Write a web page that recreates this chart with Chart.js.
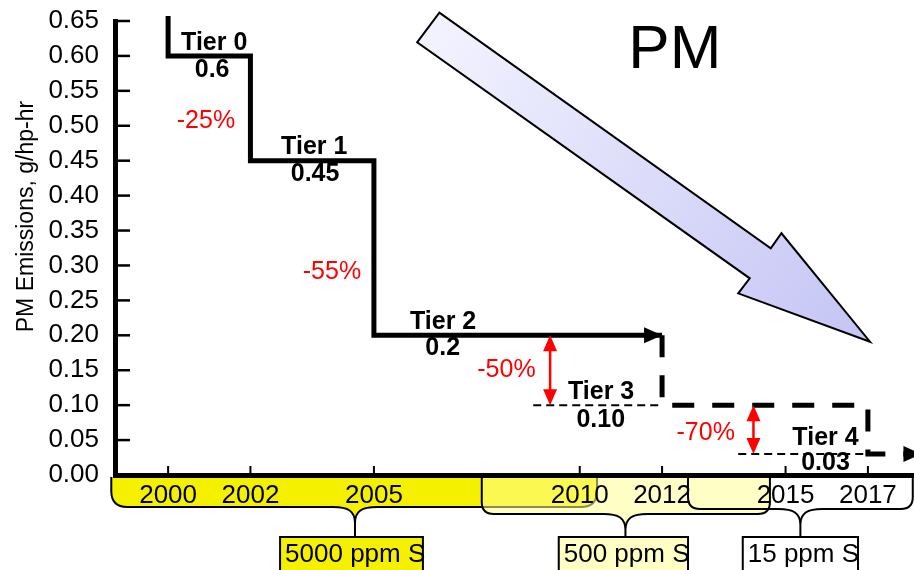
<!DOCTYPE html>
<html>
<head>
<meta charset="utf-8">
<title>PM Emissions</title>
<script src="https://cdn.jsdelivr.net/npm/chart.js@4.4.1/dist/chart.umd.min.js"></script>
<style>
  body { margin: 0; background: #fff; }
  canvas { display: block; }
</style>
</head>
<body>
<canvas id="pmChart" width="914" height="570"></canvas>
<script>
// PM limits, g/hp-hr, by tier
const tierNames = ['Tier 0', 'Tier 1', 'Tier 2', 'Tier 3', 'Tier 4'];
const tierStart = [2000, 2002, 2005, 2012, 2017];
const pmLimit = [0.6, 0.45, 0.2, 0.10, 0.03];
const pmLimitText = ['0.6', '0.45', '0.2', '0.10', '0.03'];
const reductionText = ['-25%', '-55%', '-50%', '-70%'];

const yearTicks = [2000, 2002, 2005, 2010, 2012, 2015, 2017];
const pmTicks = [0, 0.05, 0.10, 0.15, 0.20, 0.25, 0.30, 0.35, 0.40, 0.45, 0.50, 0.55, 0.60, 0.65];

// fuel sulfur periods (years covered by each brace)
const fuelText = ['5000 ppm S', '500 ppm S', '15 ppm S'];
const fuelFrom = [1998.62, 2007.62, 2012.63];
const fuelTo = [2010.42, 2014.62, 2018.09];

// layout, in axis units
const xMin = 1998.71, xMax = 2018.12;
const tier0Top = 0.657;
const lineEnd = 2018.3;
const guideFrom = [2008.87, 2013.85];
const redArrowYear = [2009.28, 2014.22];
const tierLabelAt = [[2001.12, 0.619], [2003.55, 0.470], [2006.68, 0.219], [2010.52, 0.119], [2015.97, 0.053]];
const valueLabelAt = [[2001.07, 0.580], [2003.57, 0.431], [2006.67, 0.182], [2010.51, 0.079], [2015.97, 0.017]];
const reductionAt = [[2000.92, 0.507], [2003.98, 0.291], [2008.22, 0.150], [2013.06, 0.060]];
const bigArrow = [[2006.59, 0.6619], [2014.64, 0.3246], [2014.90, 0.3461], [2017.05, 0.1908],
                  [2013.85, 0.2601], [2014.13, 0.2816], [2006.05, 0.6195]];
const bandStyle = [
    { fill: '#f5f000', bottom: 32, r: 16, brace: 2004.54, box: [2002.72, 2006.19], boxFill: '#f5f000' },
    { fill: 'rgba(255,255,150,0.55)', bottom: 39, r: 12, brace: 2011.11, box: [2009.49, 2012.63], boxFill: '#ffffc4' },
    { fill: null, bottom: 34, r: 12, brace: 2015.36, box: [2013.96, 2016.76], boxFill: '#ffffff' }
];

const FONT = '"Liberation Sans", Arial, Helvetica, sans-serif';
Chart.defaults.font.family = FONT;
Chart.defaults.color = '#000';

// corner points of the step line, each tier held until the next one starts
function steps(from, to) {
    const pts = [];
    for (let i = from; i < to; i++) {
        const end = i + 1 < tierStart.length ? tierStart[i + 1] : lineEnd;
        pts.push({ x: tierStart[i], y: pmLimit[i] });
        pts.push({ x: end, y: pmLimit[i] });
    }
    return pts;
}

const solidPts = [{ x: tierStart[0], y: tier0Top }].concat(steps(0, 3));
const dashedPts = [{ x: tierStart[3], y: pmLimit[2] }].concat(steps(3, 5));
const guide3 = [{ x: guideFrom[0], y: pmLimit[3] }, { x: tierStart[3], y: pmLimit[3] }];
const guide4 = [{ x: guideFrom[1], y: pmLimit[4] }, { x: tierStart[4], y: pmLimit[4] }];

function arrowHead(ctx, tx, ty, dx, dy, len, half) {
    const bx = tx - dx * len, by = ty - dy * len;
    ctx.beginPath();
    ctx.moveTo(tx, ty);
    ctx.lineTo(bx - dy * half, by + dx * half);
    ctx.lineTo(bx + dy * half, by - dx * half);
    ctx.closePath();
    ctx.fill();
}

function bracePath(ctx, x0, x1, top, bottom, mid, r) {
    ctx.moveTo(x0, top);
    ctx.lineTo(x0, bottom - r);
    ctx.quadraticCurveTo(x0, bottom, x0 + r, bottom);
    ctx.lineTo(mid - 22, bottom);
    ctx.bezierCurveTo(mid - 7, bottom, mid, bottom + 4, mid, bottom + 16);
    ctx.bezierCurveTo(mid, bottom + 4, mid + 7, bottom, mid + 22, bottom);
    ctx.lineTo(x1 - r, bottom);
    ctx.quadraticCurveTo(x1, bottom, x1, bottom - r);
    ctx.lineTo(x1, top);
}

function text(ctx, str, px, py, font, color, align) {
    ctx.font = font;
    ctx.fillStyle = color;
    ctx.textAlign = align || 'center';
    ctx.textBaseline = 'middle';
    ctx.fillText(str, px, py);
}

const decor = {
    id: 'decor',
    beforeDraw(chart) {
        const { ctx, chartArea: a, scales: { x } } = chart;
        const top = a.bottom + 2;
        ctx.save();
        ctx.lineWidth = 2;
        ctx.strokeStyle = '#000';
        bandStyle.forEach((b, i) => {
            const x0 = x.getPixelForValue(fuelFrom[i]);
            const x1 = x.getPixelForValue(fuelTo[i]);
            const mid = x.getPixelForValue(b.brace);
            const bottom = a.bottom + b.bottom;
            if (b.fill) {
                ctx.beginPath();
                bracePath(ctx, x0, x1, top, bottom, mid, b.r);
                ctx.closePath();
                ctx.fillStyle = b.fill;
                ctx.fill();
            }
            ctx.beginPath();
            bracePath(ctx, x0, x1, top, bottom, mid, b.r);
            ctx.moveTo(mid, bottom + 16);
            ctx.lineTo(mid, a.bottom + 61);
            ctx.stroke();

            const bx0 = x.getPixelForValue(b.box[0]);
            const bx1 = x.getPixelForValue(b.box[1]);
            ctx.fillStyle = b.boxFill;
            ctx.fillRect(bx0, a.bottom + 62, bx1 - bx0, 40);
            ctx.strokeRect(bx0, a.bottom + 62, bx1 - bx0, 40);
            text(ctx, fuelText[i], bx0 + 5, a.bottom + 80, '26px ' + FONT, '#000', 'left');
        });
        ctx.restore();
    },
    beforeDatasetsDraw(chart) {
        const { ctx, scales: { x, y } } = chart;
        const pts = bigArrow.map(p => [x.getPixelForValue(p[0]), y.getPixelForValue(p[1])]);
        ctx.save();
        const g = ctx.createLinearGradient(pts[0][0], pts[0][1], pts[3][0], pts[3][1]);
        g.addColorStop(0, '#f3f3ff');
        g.addColorStop(1, '#c4c4f5');
        ctx.beginPath();
        pts.forEach((p, i) => i ? ctx.lineTo(p[0], p[1]) : ctx.moveTo(p[0], p[1]));
        ctx.closePath();
        ctx.fillStyle = g;
        ctx.fill();
        ctx.lineWidth = 2;
        ctx.lineJoin = 'miter';
        ctx.strokeStyle = '#000';
        ctx.stroke();
        text(ctx, 'PM', x.getPixelForValue(2012.31), y.getPixelForValue(0.607), '62px ' + FONT, '#000');
        ctx.restore();
    },
    afterDatasetsDraw(chart) {
        const { ctx, scales: { x, y } } = chart;
        ctx.save();
        // arrow heads at the ends of the tier lines
        ctx.fillStyle = '#000';
        chart.data.datasets.forEach((ds, i) => {
            if (!ds.arrowEnd) return;
            const pts = chart.getDatasetMeta(i).data;
            const p = pts[pts.length - 1], q = pts[pts.length - 2];
            const d = Math.hypot(p.x - q.x, p.y - q.y);
            arrowHead(ctx, p.x, p.y, (p.x - q.x) / d, (p.y - q.y) / d, 18, 8);
        });
        // red double arrows for the reductions
        ctx.strokeStyle = '#ff0000';
        ctx.fillStyle = '#ff0000';
        ctx.lineWidth = 2.5;
        redArrowYear.forEach((yr, i) => {
            const px = x.getPixelForValue(yr);
            const y1 = y.getPixelForValue(pmLimit[i + 2]);
            const y2 = y.getPixelForValue(pmLimit[i + 3]);
            ctx.beginPath();
            ctx.moveTo(px, y1 + 10);
            ctx.lineTo(px, y2 - 10);
            ctx.stroke();
            arrowHead(ctx, px, y1, 0, -1, 16, 7);
            arrowHead(ctx, px, y2, 0, 1, 16, 7);
        });
        tierNames.forEach((t, i) => {
            text(ctx, t, x.getPixelForValue(tierLabelAt[i][0]), y.getPixelForValue(tierLabelAt[i][1]), 'bold 25px ' + FONT, '#000');
            text(ctx, pmLimitText[i], x.getPixelForValue(valueLabelAt[i][0]), y.getPixelForValue(valueLabelAt[i][1]), 'bold 25px ' + FONT, '#000');
        });
        reductionText.forEach((t, i) => {
            text(ctx, t, x.getPixelForValue(reductionAt[i][0]), y.getPixelForValue(reductionAt[i][1]), '25px ' + FONT, '#ff0000');
        });
        ctx.restore();
    },
    afterDraw(chart) {
        const { ctx, chartArea: a, scales: { x, y } } = chart;
        ctx.save();
        ctx.strokeStyle = '#000';
        // tick marks point inward
        ctx.lineWidth = 2.5;
        y.ticks.forEach(t => {
            const py = y.getPixelForValue(t.value);
            ctx.beginPath();
            ctx.moveTo(a.left, py);
            ctx.lineTo(a.left + 15, py);
            ctx.stroke();
        });
        ctx.lineWidth = 2;
        x.ticks.forEach(t => {
            const px = x.getPixelForValue(t.value);
            ctx.beginPath();
            ctx.moveTo(px, a.bottom);
            ctx.lineTo(px, a.bottom - 9);
            ctx.stroke();
        });
        ctx.translate(27, y.getPixelForValue(0.37));
        ctx.rotate(-Math.PI / 2);
        text(ctx, 'PM Emissions, g/hp-hr', 0, 0, '23px ' + FONT, '#000');
        ctx.restore();
    }
};

const chart = new Chart(document.getElementById('pmChart'), {
    type: 'line',
    data: {
        datasets: [
            { data: solidPts, borderColor: '#000', borderWidth: 5, borderJoinStyle: 'miter', clip: false, arrowEnd: true },
            { data: dashedPts, borderColor: '#000', borderWidth: 5, borderDash: [22, 18], borderJoinStyle: 'miter', clip: false, arrowEnd: true },
            { data: guide3, borderColor: '#000', borderWidth: 2, borderDash: [8, 5] },
            { data: guide4, borderColor: '#000', borderWidth: 2, borderDash: [8, 5] }
        ]
    },
    options: {
        responsive: false,
        animation: false,
        devicePixelRatio: 1,
        layout: { padding: { top: 21, left: 0, right: 0, bottom: 0 } },
        plugins: { legend: { display: false }, tooltip: { enabled: false } },
        elements: { point: { radius: 0 }, line: { tension: 0 } },
        scales: {
            x: {
                type: 'linear',
                min: xMin,
                max: xMax,
                afterBuildTicks: s => { s.ticks = yearTicks.map(v => ({ value: v })); },
                afterFit: s => { s.height = 95; s.paddingLeft = 0; s.paddingRight = 0; },
                grid: { display: false, drawTicks: false },
                border: { width: 5, color: '#000' },
                ticks: { font: { size: 26 }, color: '#000', padding: 5, maxRotation: 0, autoSkip: false, callback: v => String(v) }
            },
            y: {
                min: 0,
                max: 0.65,
                afterBuildTicks: s => { s.ticks = pmTicks.map(v => ({ value: v })); },
                afterFit: s => { s.width = 115; s.paddingTop = 0; s.paddingBottom = 0; },
                grid: { display: false, drawTicks: false },
                border: { width: 5, color: '#000' },
                ticks: { font: { size: 26 }, color: '#000', padding: 16, autoSkip: false, callback: v => v.toFixed(2) }
            }
        }
    },
    plugins: [decor]
});
</script>
</body>
</html>
